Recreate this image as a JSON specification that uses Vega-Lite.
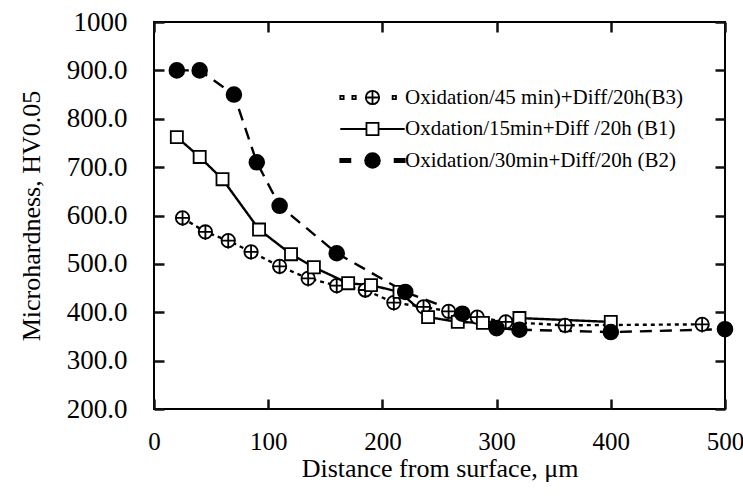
{
  "$schema": "https://vega.github.io/schema/vega-lite/v6.json",
  "width": 571,
  "height": 387,
  "autosize": {"type": "none"},
  "padding": {"left": 154, "top": 22, "right": 18, "bottom": 90},
  "background": "white",
  "config": {
    "view": {"stroke": "#000000", "strokeWidth": 2},
    "font": "Liberation Serif",
    "axis": {"domain": false, "grid": false, "labelColor": "black", "titleColor": "black", "titleFontWeight": "normal", "labelFont": "Liberation Serif", "titleFont": "Liberation Serif"},
    "legend": {"labelFont": "Liberation Serif", "labelFontSize": 21, "labelColor": "black"}
  },
  "datasets": {
    "main": [
      {"series": "Oxidation/45  min)+Diff/20h(B3)", "d": 25, "hv": 595},
      {"series": "Oxidation/45  min)+Diff/20h(B3)", "d": 45, "hv": 566},
      {"series": "Oxidation/45  min)+Diff/20h(B3)", "d": 65, "hv": 548},
      {"series": "Oxidation/45  min)+Diff/20h(B3)", "d": 85, "hv": 525},
      {"series": "Oxidation/45  min)+Diff/20h(B3)", "d": 110, "hv": 495},
      {"series": "Oxidation/45  min)+Diff/20h(B3)", "d": 135, "hv": 470},
      {"series": "Oxidation/45  min)+Diff/20h(B3)", "d": 160, "hv": 455},
      {"series": "Oxidation/45  min)+Diff/20h(B3)", "d": 185, "hv": 446},
      {"series": "Oxidation/45  min)+Diff/20h(B3)", "d": 210, "hv": 420},
      {"series": "Oxidation/45  min)+Diff/20h(B3)", "d": 236, "hv": 411},
      {"series": "Oxidation/45  min)+Diff/20h(B3)", "d": 258, "hv": 402},
      {"series": "Oxidation/45  min)+Diff/20h(B3)", "d": 283, "hv": 390},
      {"series": "Oxidation/45  min)+Diff/20h(B3)", "d": 308, "hv": 380},
      {"series": "Oxidation/45  min)+Diff/20h(B3)", "d": 360, "hv": 373},
      {"series": "Oxidation/45  min)+Diff/20h(B3)", "d": 480, "hv": 375},
      {"series": "Oxdation/15min+Diff /20h (B1)", "d": 20, "hv": 762},
      {"series": "Oxdation/15min+Diff /20h (B1)", "d": 40, "hv": 721},
      {"series": "Oxdation/15min+Diff /20h (B1)", "d": 60, "hv": 675},
      {"series": "Oxdation/15min+Diff /20h (B1)", "d": 92, "hv": 571},
      {"series": "Oxdation/15min+Diff /20h (B1)", "d": 120, "hv": 520},
      {"series": "Oxdation/15min+Diff /20h (B1)", "d": 140, "hv": 493},
      {"series": "Oxdation/15min+Diff /20h (B1)", "d": 170, "hv": 460},
      {"series": "Oxdation/15min+Diff /20h (B1)", "d": 190, "hv": 456},
      {"series": "Oxdation/15min+Diff /20h (B1)", "d": 215, "hv": 442},
      {"series": "Oxdation/15min+Diff /20h (B1)", "d": 240, "hv": 390},
      {"series": "Oxdation/15min+Diff /20h (B1)", "d": 266, "hv": 380},
      {"series": "Oxdation/15min+Diff /20h (B1)", "d": 288, "hv": 378},
      {"series": "Oxdation/15min+Diff /20h (B1)", "d": 320, "hv": 388},
      {"series": "Oxdation/15min+Diff /20h (B1)", "d": 400, "hv": 380},
      {"series": "Oxidation/30min+Diff/20h (B2)", "d": 20, "hv": 900},
      {"series": "Oxidation/30min+Diff/20h (B2)", "d": 40, "hv": 900},
      {"series": "Oxidation/30min+Diff/20h (B2)", "d": 70, "hv": 850},
      {"series": "Oxidation/30min+Diff/20h (B2)", "d": 90, "hv": 710},
      {"series": "Oxidation/30min+Diff/20h (B2)", "d": 110, "hv": 620},
      {"series": "Oxidation/30min+Diff/20h (B2)", "d": 160, "hv": 522},
      {"series": "Oxidation/30min+Diff/20h (B2)", "d": 220, "hv": 442},
      {"series": "Oxidation/30min+Diff/20h (B2)", "d": 270, "hv": 397},
      {"series": "Oxidation/30min+Diff/20h (B2)", "d": 300, "hv": 367},
      {"series": "Oxidation/30min+Diff/20h (B2)", "d": 320, "hv": 364},
      {"series": "Oxidation/30min+Diff/20h (B2)", "d": 400, "hv": 359},
      {"series": "Oxidation/30min+Diff/20h (B2)", "d": 500, "hv": 365}
    ]
  },
  "layer": [
    {
      "data": {"name": "main"},
      "mark": {"type": "line", "color": "black", "strokeWidth": 2.4},
      "encoding": {
        "x": {"field": "d", "type": "quantitative", "scale": {"domain": [0, 500], "nice": false, "zero": false},
          "axis": {"orient": "bottom", "values": [0, 100, 200, 300, 400, 500],
            "offset": -10, "tickSize": 10, "tickWidth": 2.5, "tickColor": "#111111", "zindex": 1,
            "labelPadding": 20, "labelFontSize": 25, "labelFlush": false, "labelOverlap": false, "format": "d",
            "title": "Distance from surface, μm", "titleFontSize": 26, "titlePadding": 1}},
        "y": {"field": "hv", "type": "quantitative", "scale": {"domain": [200, 1000], "nice": false, "zero": false},
          "axis": {"orient": "left", "values": [200, 300, 400, 500, 600, 700, 800, 900, 1000],
            "offset": -10, "tickSize": 10, "tickWidth": 2.5, "tickColor": "#111111", "zindex": 1,
            "labelPadding": 27, "labelFontSize": 27, "labelOverlap": false, "labelFlush": false,
            "labelExpr": "datum.value == 1000 ? '1000' : format(datum.value, '.1f')",
            "title": "Microhardness, HV0.05", "titleFontSize": 26, "titlePadding": 22}},
        "strokeDash": {"field": "series", "type": "nominal",
          "scale": {"domain": ["Oxidation/45  min)+Diff/20h(B3)", "Oxdation/15min+Diff /20h (B1)", "Oxidation/30min+Diff/20h (B2)"], "range": [[4, 4], [1, 0], [12, 8]]},
          "legend": null}
      }
    },
    {
      "data": {"name": "main"},
      "mark": {"type": "point", "filled": true, "stroke": "black", "strokeWidth": 1.8, "size": 180, "opacity": 1},
      "encoding": {
        "x": {"field": "d", "type": "quantitative", "axis": null},
        "y": {"field": "hv", "type": "quantitative", "axis": null},
        "shape": {"field": "series", "type": "nominal",
          "scale": {"domain": ["Oxidation/45  min)+Diff/20h(B3)", "Oxdation/15min+Diff /20h (B1)", "Oxidation/30min+Diff/20h (B2)"],
            "range": [
              "M 1 0 C 1 0.552 0.552 1 0 1 C -0.552 1 -1 0.552 -1 0 C -1 -0.552 -0.552 -1 0 -1 C 0.552 -1 1 -0.552 1 0 Z M -1 0 L 1 0 M 0 -1 L 0 1.2",
              "M -0.9 -0.9 L 0.9 -0.9 L 0.9 0.9 L -0.9 0.9 Z",
              "M 1.1 0 C 1.1 0.607 0.607 1.1 0 1.1 C -0.607 1.1 -1.1 0.607 -1.1 0 C -1.1 -0.607 -0.607 -1.1 0 -1.1 C 0.607 -1.1 1.1 -0.607 1.1 0 Z"
            ]},
          "legend": null},
        "fill": {"field": "series", "type": "nominal",
          "scale": {"domain": ["Oxidation/45  min)+Diff/20h(B3)", "Oxdation/15min+Diff /20h (B1)", "Oxidation/30min+Diff/20h (B2)"], "range": ["white", "white", "black"]},
          "legend": null}
      }
    },
    {
      "data": {"values": []},
      "mark": {"type": "point", "filled": true, "stroke": "black", "strokeWidth": 1.8, "size": 180},
      "encoding": {
        "x": {"field": "d", "type": "quantitative",
          "axis": {"orient": "top", "values": [0, 100, 200, 300, 400, 500],
            "offset": -10, "tickSize": 10, "tickWidth": 2.5, "tickColor": "#111111", "zindex": 1, "labels": false, "title": null}},
        "y": {"field": "hv", "type": "quantitative",
          "axis": {"orient": "right", "values": [200, 300, 400, 500, 600, 700, 800, 900, 1000],
            "offset": -10, "tickSize": 10, "tickWidth": 2.5, "tickColor": "#111111", "zindex": 1, "labels": false, "title": null}},
        "shape": {"field": "series", "type": "nominal",
          "scale": {"domain": ["Oxidation/45  min)+Diff/20h(B3)", "Oxdation/15min+Diff /20h (B1)", "Oxidation/30min+Diff/20h (B2)"],
            "range": [
              "M -4.8 -0.25 L -4.3 -0.25 L -4.3 0.25 L -4.8 0.25 Z M -3.0 -0.25 L -2.5 -0.25 L -2.5 0.25 L -3.0 0.25 Z M 1 0 C 1 0.552 0.552 1 0 1 C -0.552 1 -1 0.552 -1 0 C -1 -0.552 -0.552 -1 0 -1 C 0.552 -1 1 -0.552 1 0 Z M -1 0 L 1 0 M 0 -1 L 0 1 M 3.0 -0.25 L 3.5 -0.25 L 3.5 0.25 L 3.0 0.25 Z",
              "M -4.8 0 L -0.9 0 M -0.9 -0.9 L 0.9 -0.9 L 0.9 0.9 L -0.9 0.9 Z M 0.9 0 L 4.8 0",
              "M -4.8 -0.25 L -3.3 -0.25 L -3.3 0.25 L -4.8 0.25 Z M 1.1 0 C 1.1 0.607 0.607 1.1 0 1.1 C -0.607 1.1 -1.1 0.607 -1.1 0 C -1.1 -0.607 -0.607 -1.1 0 -1.1 C 0.607 -1.1 1.1 -0.607 1.1 0 Z M 3.3 -0.25 L 4.8 -0.25 L 4.8 0.25 L 3.3 0.25 Z"
            ]},
          "legend": {"title": null, "orient": "none", "legendX": 208, "legendY": 65, "padding": 0, "labelFont": "Liberation Serif", "labelFontSize": 21, "labelColor": "black", "symbolSize": 180, "symbolStrokeWidth": 1.8, "symbolStrokeColor": "black", "symbolOpacity": 1, "labelOffset": 22, "rowPadding": 9.5, "labelLimit": 400,
            "encode": {"symbols": {"update": {"stroke": {"value": "black"}, "strokeWidth": {"value": 1.8}, "opacity": {"value": 1}}}}}},
        "fill": {"field": "series", "type": "nominal",
          "scale": {"domain": ["Oxidation/45  min)+Diff/20h(B3)", "Oxdation/15min+Diff /20h (B1)", "Oxidation/30min+Diff/20h (B2)"], "range": ["white", "white", "black"]},
          "legend": {"title": null, "orient": "none", "legendX": 208, "legendY": 65, "padding": 0, "labelFont": "Liberation Serif", "labelFontSize": 21, "labelColor": "black", "symbolSize": 180, "symbolStrokeWidth": 1.8, "symbolStrokeColor": "black", "symbolOpacity": 1, "labelOffset": 22, "rowPadding": 9.5, "labelLimit": 400,
            "encode": {"symbols": {"update": {"stroke": {"value": "black"}, "strokeWidth": {"value": 1.8}, "opacity": {"value": 1}}}}}}
      }
    }
  ],
  "resolve": {"axis": {"x": "independent", "y": "independent"}, "scale": {"shape": "independent", "fill": "independent"}}
}
